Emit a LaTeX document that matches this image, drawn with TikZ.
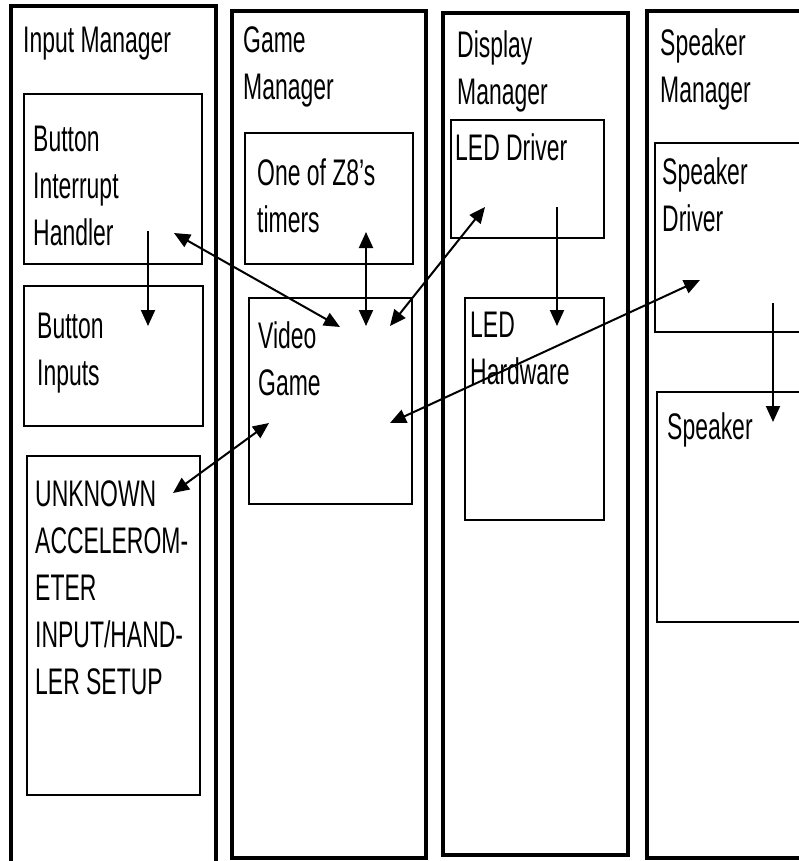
\documentclass[tikz,border=0pt]{standalone}
\usepackage{fontspec}
\setmainfont{Liberation Sans}[FakeStretch=0.62, Ligatures=ResetAll]
\usetikzlibrary{arrows.meta}
\tikzset{
	manager/.style={draw, line width=3.5pt, anchor=north west, inner sep=0pt, outer sep=0pt},
	part/.style={draw, line width=1.4pt, anchor=north west, inner sep=0pt, outer sep=0pt},
	txt/.style={anchor=north west, inner sep=0pt, align=left, font=\fontsize{37}{47}\selectfont},
	flow/.style={line width=2pt, -{Triangle[length=16pt,width=14pt]}},
	dflow/.style={line width=2pt, {Triangle[length=16pt,width=14pt]}-{Triangle[length=16pt,width=14pt]}},
}

\begin{document}
\begin{tikzpicture}[x=1pt, y=-1pt]
		\useasboundingbox (0,0) rectangle (799,861);
		\node [manager, minimum width=205pt, minimum height=870pt] at (11,6) (inmgr) {};
		\node [manager, minimum width=194pt, minimum height=847pt] at (232,11) (gamemgr) {};
		\node [manager, minimum width=185pt, minimum height=842pt] at (443,13) (dispmgr) {};
		\node [manager, minimum width=180pt, minimum height=847pt] at (647,11) (spkmgr) {};
		\node [part, minimum width=178pt, minimum height=170pt] at (24,94) (btnirq) {};
		\node [part, minimum width=179pt, minimum height=140pt] at (24,286) (btnin) {};
		\node [part, minimum width=173pt, minimum height=339pt] at (27,456) (accel) {};
		\node [part, minimum width=168pt, minimum height=131pt] at (245,133) (timer) {};
		\node [part, minimum width=163pt, minimum height=206pt] at (249,298) (game) {};
		\node [part, minimum width=153pt, minimum height=118pt] at (451,120) (leddrv) {};
		\node [part, minimum width=139pt, minimum height=222pt] at (465,298) (ledhw) {};
		\node [part, minimum width=165pt, minimum height=189pt] at (655,143) (spkdrv) {};
		\node [part, minimum width=165pt, minimum height=230pt] at (657,392) (spk) {};
		
		\node [txt] at (23,27) (t-inmgr) {Input Manager};
		\node [txt] at (243,26) (t-gamemgr) {Game\\Manager};
		\node [txt] at (457,30) (t-dispmgr) {Display\\Manager};
		\node [txt] at (660,28) (t-spkmgr) {Speaker\\Manager};
		\node [txt] at (33,126) (t-btnirq) {Button\\Interrupt\\Handler};
		\node [txt] at (37,313) (t-btnin) {Button\\Inputs};
		\node [txt] at (35,480) (t-accel) {UNKNOWN\\ACCELEROM-\\ETER\\INPUT/HAND-\\LER SETUP};
		\node [txt] at (257,159) (t-timer) {One of Z8's\\timers};
		\node [txt] at (258,321) (t-game) {Video\\Game};
		\node [txt] at (455,133) (t-leddrv) {LED Driver};
		\node [txt] at (470,312) (t-ledhw) {LED\\Hardware};
		\node [txt] at (662,157) (t-spkdrv) {Speaker\\Driver};
		\node [txt] at (667,412) (t-spk) {Speaker};
		
		\coordinate (btnirq-s) at (148,231);
		\coordinate (btnin-n) at (148,326);
		\coordinate (btnirq-e) at (174,233);
		\coordinate (game-a) at (340,327);
		\coordinate (timer-s) at (366,232);
		\coordinate (game-b) at (366,326);
		\coordinate (game-c) at (390,326);
		\coordinate (leddrv-w) at (485,207);
		\coordinate (accel-e) at (173,493);
		\coordinate (game-d) at (269,423);
		\coordinate (game-e) at (390,423);
		\coordinate (spkdrv-w) at (700,280);
		\coordinate (leddrv-s) at (557,207);
		\coordinate (ledhw-n) at (557,326);
		\coordinate (spkdrv-s) at (773,303);
		\coordinate (spk-n) at (773,422);
		
		\draw [flow] (btnirq-s) -- (btnin-n);
		\draw [dflow] (btnirq-e) -- (game-a);
		\draw [dflow] (timer-s) -- (game-b);
		\draw [dflow] (game-c) -- (leddrv-w);
		\draw [dflow] (accel-e) -- (game-d);
		\draw [dflow] (game-e) -- (spkdrv-w);
		\draw [flow] (leddrv-s) -- (ledhw-n);
		\draw [flow] (spkdrv-s) -- (spk-n);
\end{tikzpicture}
\end{document}
